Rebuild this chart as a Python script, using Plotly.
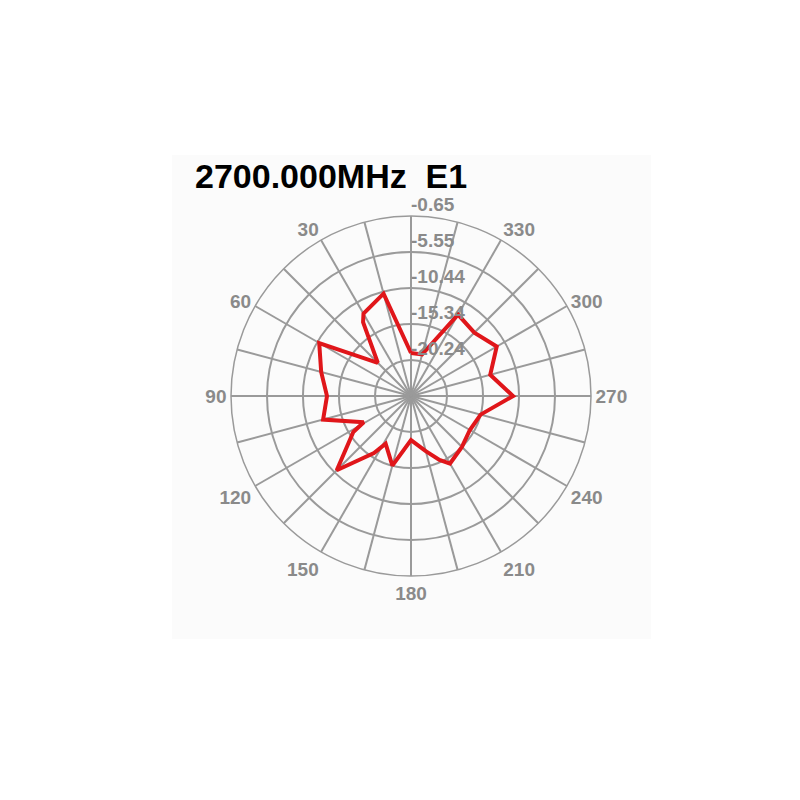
import plotly.graph_objects as go

# antenna pattern (angle in deg, level in dB)
angles = [0, 15, 30, 33, 45, 60, 75, 90, 105, 119, 122, 135, 147, 152, 165, 180,
          195, 204, 210, 225, 240, 255, 270, 285, 300, 315, 330, 345, 360]
levels = [-19.29, -10.72, -12.21, -13.17, -18.75, -10.72, -12.49, -13.71, -12.76, -17.79,
          -15.89, -10.85, -15.89, -17.79, -15.34, -19.15, -17.38, -15.62, -14.53, -15.34,
          -15.89, -15.34, -11.26, -13.98, -11.67, -12.95, -12.35, -19.29, -19.29]

ring_values = [-20.24, -15.34, -10.44, -5.55, -0.65]
ring_labels = ["-20.24", "-15.34", "-10.44", "-5.55", "-0.65"]
r_min = -25.14

spoke_angles = list(range(0, 360, 15))
spoke_labels = ["" if (a % 30 or a == 0) else str(a) for a in spoke_angles]

title = "2700.000MHz\u00a0\u00a0E1"

grid = "#9a9a9a"
label_font = dict(family="Liberation Sans, Arial", size=19, color="#8a8a8a", weight="bold")

fig = go.Figure()
fig.add_trace(go.Scatterpolar(
    r=levels, theta=angles, mode="lines",
    line=dict(color="#e0161a", width=4),
    hoverinfo="skip", showlegend=False,
))
# ring labels sit just above each ring, right of the 0 deg spoke
fig.add_trace(go.Scatterpolar(
    r=ring_values, theta=[0] * len(ring_values), mode="text",
    text=ring_labels, textposition="top right", textfont=label_font,
    hoverinfo="skip", showlegend=False, cliponaxis=False,
))

# page body has an 8px margin, so everything is nudged up/left by 8px
fig.update_layout(
    width=800, height=800,
    margin=dict(l=0, r=0, t=0, b=0),
    paper_bgcolor="white",
    polar=dict(
        domain=dict(x=[0.27875, 0.72875], y=[0.29, 0.74]),
        bgcolor="rgba(0,0,0,0)",
        angularaxis=dict(
            rotation=90, direction="counterclockwise",
            tickmode="array", tickvals=spoke_angles, ticktext=spoke_labels,
            showgrid=True, gridcolor=grid, gridwidth=1.5,
            showline=True, linecolor=grid, linewidth=1.5,
            ticks="", tickfont=label_font,
        ),
        radialaxis=dict(
            range=[r_min, -0.65], angle=90,
            tickmode="array", tickvals=ring_values,
            showgrid=True, gridcolor=grid, gridwidth=1.5,
            showline=False, ticks="", showticklabels=False,
        ),
    ),
    shapes=[dict(type="rect", xref="paper", yref="paper",
                 x0=0.205, x1=0.80375, y0=0.21125, y1=0.81625,
                 line=dict(width=0), fillcolor="#fbfbfb", layer="below")],
    annotations=[dict(text=title, xref="paper", yref="paper", x=0.23125, y=0.7895,
                      xanchor="left", yanchor="middle", showarrow=False,
                      font=dict(family="Liberation Sans, Arial", size=34,
                                color="black", weight="bold"))],
)

fig.write_html("out.html")
